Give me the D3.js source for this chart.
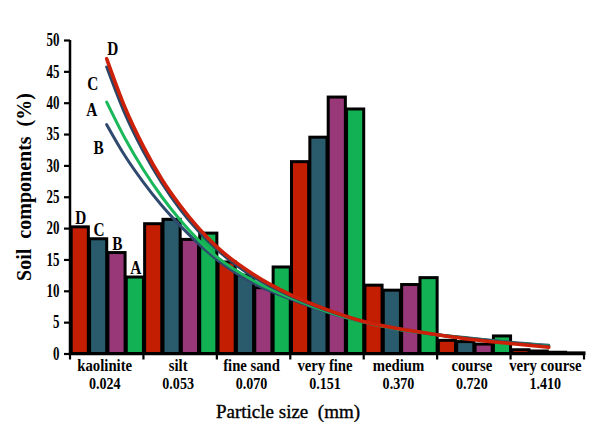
<!DOCTYPE html>
<html><head><meta charset="utf-8">
<script src="https://cdn.jsdelivr.net/npm/d3@7"></script>
<style>
html,body{margin:0;padding:0;background:#fff;}
svg{display:block;}
text{font-family:"Liberation Serif","Times New Roman",serif;}
</style></head>
<body>
<svg id="chart" width="595" height="429"></svg>
<script>
// ---- data ----
const categories = ["kaolinite","silt","fine sand","very fine","medium","course","very course"];
const sizes = ["0.024","0.053","0.070","0.151","0.370","0.720","1.410"];
const seriesNames = ["D","C","B","A"];
const valuesD = [20.2, 20.7, 14.6, 30.6, 10.9, 2.1, 0.6];
const valuesC = [18.3, 21.4, 12.5, 34.5, 10.1, 1.9, 0.4];
const valuesB = [16.1, 18.2, 10.5, 40.9, 11.0, 1.5, 0.2];
const valuesA = [12.2, 19.2, 13.8, 39.0, 12.1, 2.8, 0.1];
const yTicks = [0,5,10,15,20,25,30,35,40,45,50];
// trend curves: position in category units, value %
const curveX = [0.5, 0.75, 1.0, 1.25, 1.5, 2.0, 2.5, 3.0, 3.5, 4.0, 4.5, 5.0, 5.5, 6.0, 6.52];
const curveD = [47.0, 39.2, 33.0, 27.8, 23.6, 17.0, 12.6, 9.4, 7.0, 5.1, 3.9, 3.0, 2.2, 1.6, 1.0];
const curveC = [45.7, 38.2, 32.2, 27.2, 23.0, 16.6, 12.2, 9.2, 6.9, 5.1, 3.9, 3.0, 2.3, 1.7, 1.1];
const curveA = [40.1, 34.3, 29.3, 25.0, 21.3, 15.4, 11.6, 8.9, 6.7, 5.0, 3.8, 3.0, 2.3, 1.7, 1.2];
const curveB = [36.5, 31.5, 27.3, 23.6, 20.4, 15.0, 11.2, 8.7, 6.6, 5.0, 3.8, 3.0, 2.4, 1.8, 1.3];

const barColors = {D:"#c41e02", C:"#295b6c", B:"#983878", A:"#12b153"};
const lineColors = {D:"#cc2008", C:"#2a4565", B:"#2f4a6e", A:"#19b85a"};
const barValues = {D:valuesD, C:valuesC, B:valuesB, A:valuesA};
const curves = {D:curveD, C:curveC, B:curveB, A:curveA};
const curveLabelOffset = {D:[6,-4], C:[-14,23], A:[-15,14], B:[-8,29]};

// ---- layout ----
const svg = d3.select("#chart");
const mLeft = 70, mRight = 584, mTop = 40, mBottom = 353.5;

const x = d3.scaleBand().domain(categories).range([mLeft, mRight]).padding(0);
const xs = d3.scaleBand().domain(seriesNames).range([0, x.bandwidth()]).padding(0);
const xc = d3.scaleLinear().domain([0, categories.length]).range([mLeft, mRight]);
const y = d3.scaleLinear().domain([0, 50]).range([mBottom, mTop]);

// bars
const rows = [];
categories.forEach((c,i)=>seriesNames.forEach(s=>rows.push({c, s, v: barValues[s][i]})));
svg.append("g").selectAll("rect").data(rows).join("rect")
  .attr("x", d => x(d.c) + xs(d.s) + 1.2)
  .attr("y", d => y(d.v))
  .attr("width", xs.bandwidth() - 1.2)
  .attr("height", d => y(0) - y(d.v))
  .attr("fill", d => barColors[d.s])
  .attr("stroke", "#000")
  .attr("stroke-width", 3);

// bar labels on kaolinite group
svg.append("g").selectAll("text").data(seriesNames).join("text")
  .attr("transform", s => `translate(${x(categories[0]) + xs(s) + xs.bandwidth()/2 + 1.5},${y(barValues[s][0]) - 3}) scale(0.85,1)`)
  .attr("text-anchor", "middle")
  .attr("font-size", 18).attr("font-weight", "bold")
  .text(s => s);

// curves
const line = d3.line().x((d,i)=>xc(curveX[i])).y(d=>y(d)).curve(d3.curveMonotoneX);
["B","A","C","D"].forEach(s=>{
  svg.append("path").attr("d", line(curves[s]))
    .attr("fill","none").attr("stroke", lineColors[s])
    .attr("stroke-width", s==="D" ? 3.6 : 3).attr("stroke-linecap","round");
});
svg.append("g").selectAll("text").data(["D","C","A","B"]).join("text")
  .attr("transform", s => `translate(${xc(curveX[0]) + curveLabelOffset[s][0]},${y(curves[s][0]) + curveLabelOffset[s][1]}) scale(0.85,1)`)
  .attr("text-anchor","middle")
  .attr("font-size", 18).attr("font-weight","bold")
  .text(s=>s);

// y axis
const yAxis = svg.append("g").attr("transform", `translate(${mLeft},0)`)
  .call(d3.axisLeft(y).tickValues(yTicks).tickSize(6).tickPadding(3));
yAxis.select(".domain").attr("stroke","#000").attr("stroke-width",2.5).attr("d", `M0,${mTop}V${mBottom+1}`);
yAxis.selectAll(".tick line").attr("stroke","#000").attr("stroke-width",2.2);
yAxis.selectAll(".tick text").attr("font-family","Liberation Serif").attr("font-size",18)
  .attr("font-weight","bold").attr("fill","#000")
  .attr("x", -14.5).attr("transform","scale(0.72,1)");

// x axis
const bounds = d3.range(categories.length+1).map(i=>xc(i));
const xg = svg.append("g");
xg.append("line").attr("x1", mLeft-1).attr("x2", mRight+1).attr("y1", mBottom+0.5).attr("y2", mBottom+0.5)
  .attr("stroke","#000").attr("stroke-width",2.5);
xg.selectAll("line.tk").data(bounds).join("line").attr("class","tk")
  .attr("x1", d=>d).attr("x2", d=>d).attr("y1", mBottom).attr("y2", mBottom+6)
  .attr("stroke","#000").attr("stroke-width",2.2);
xg.selectAll("text.cat").data(categories).join("text").attr("class","cat")
  .attr("transform", d => `translate(${x(d) + x.bandwidth()/2 - 2},370.5) scale(0.92,1)`)
  .attr("text-anchor","middle").attr("font-size",16).attr("font-weight","bold")
  .text(d=>d);
xg.selectAll("text.sz").data(sizes).join("text").attr("class","sz")
  .attr("transform", (d,i) => `translate(${x(categories[i]) + x.bandwidth()/2 - 2},389) scale(0.88,1)`)
  .attr("text-anchor","middle").attr("font-size",16).attr("font-weight","bold")
  .text(d=>d);

// titles
svg.append("text").attr("x", 288).attr("y", 418).attr("text-anchor","middle")
  .attr("font-size",19).attr("stroke","#000").attr("stroke-width",0.35)
  .text("Particle size\u00a0 (mm)");
svg.append("text").attr("transform","translate(31,187) rotate(-90)").attr("text-anchor","middle")
  .attr("font-size",20).attr("font-weight","bold").text("Soil\u00a0 components\u00a0 (%)");
</script>
</body></html>
